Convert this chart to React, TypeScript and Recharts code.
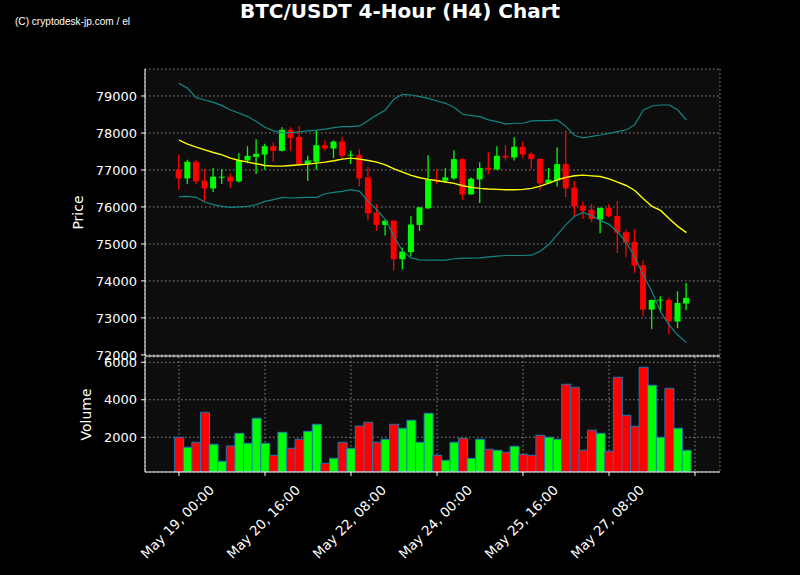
import React from 'react';
import { ComposedChart, Bar, Line, XAxis, YAxis, CartesianGrid, Cell } from 'recharts';

const OPEN = [77005, 76772, 77221, 76709, 76502, 76800, 76817, 76691, 77257, 77356,
  77419, 77643, 77517, 78084, 77895, 77158, 77221, 77670, 77580, 77769,
  77383, 77401, 76799, 75846, 75514, 75631, 74588, 74777, 75514, 75963,
  76745, 76709, 76772, 77293, 76340, 76745, 77059, 77014, 77383, 77338,
  77625, 77437, 77302, 76637, 76718, 77158, 76520, 76035, 75927, 75658,
  75973, 75757, 75315, 75054, 74423, 73225, 73477, 73486, 72901, 73387];
const HIGH = [77410, 77275, 77275, 77023, 77050, 77023, 76906, 77455, 77643, 77832,
  77706, 77742, 78155, 78155, 78191, 77383, 78075, 77805, 77805, 77895,
  77517, 77562, 77077, 76080, 75640, 75640, 74894, 75747, 76000, 77401,
  77014, 77050, 77535, 77320, 76799, 77212, 77482, 77643, 77670, 77886,
  77769, 77482, 77320, 77050, 77607, 78075, 76700, 76152, 76080, 75990,
  76072, 76162, 75387, 75387, 74550, 73495, 73586, 73550, 73721, 73946];
const LOW = [76466, 76619, 76619, 76134, 76403, 76619, 76511, 76664, 77185, 76888,
  77005, 77221, 77500, 77517, 77150, 76700, 77005, 77517, 77320, 77320,
  77158, 76556, 75631, 75352, 75226, 74283, 74310, 74669, 75352, 75945,
  76619, 76664, 76736, 76197, 76330, 76107, 76888, 76996, 77257, 77257,
  77320, 77014, 76457, 76619, 76556, 76269, 75756, 75676, 75595, 75288,
  75721, 74757, 74640, 74216, 73045, 72694, 73189, 72559, 72721, 73207];
const CLOSE = [76772, 77221, 76691, 76502, 76817, 76817, 76691, 77257, 77383, 77437,
  77643, 77517, 78084, 77868, 77158, 77257, 77670, 77580, 77769, 77383,
  77410, 76772, 75828, 75514, 75631, 74588, 74795, 75523, 75990, 76745,
  76709, 76799, 77293, 76340, 76763, 77050, 77014, 77383, 77338, 77625,
  77419, 77293, 76637, 76736, 77158, 76502, 76017, 75900, 75676, 75973,
  75748, 75306, 75036, 74414, 73225, 73486, 73495, 72910, 73405, 73541];
const VOLUME = [2000, 1467, 1733, 3333, 1627, 720, 1536, 2213, 1680, 3013,
  1680, 1040, 2267, 1413, 1893, 2320, 2693, 613, 880, 1733,
  1413, 2600, 2800, 1733, 1893, 2693, 2480, 2907, 1733, 3280,
  1040, 773, 1733, 1947, 880, 1893, 1360, 1307, 1200, 1520,
  1093, 1040, 2107, 2000, 1893, 4827, 4667, 1307, 2373, 2213,
  1253, 5200, 3173, 2587, 5733, 4773, 2000, 4613, 2480, 1307];
const MA = [77805, 77700, 77616, 77544, 77473, 77410, 77320, 77257, 77212, 77167,
  77122, 77104, 77104, 77122, 77140, 77158, 77185, 77212, 77248, 77293,
  77320, 77293, 77257, 77212, 77140, 77032, 76942, 76853, 76790, 76745,
  76709, 76673, 76637, 76574, 76529, 76502, 76484, 76475, 76466, 76466,
  76475, 76502, 76565, 76646, 76736, 76799, 76844, 76860, 76840, 76823,
  76760, 76670, 76580, 76446, 76221, 76014, 75907, 75682, 75475, 75305];
const UPPER = [79341, 79207, 78955, 78892, 78829, 78739, 78623, 78533, 78443, 78308,
  78155, 78057, 78012, 78012, 78030, 78057, 78075, 78102, 78146, 78173,
  78173, 78191, 78335, 78488, 78623, 78919, 79045, 79027, 78982, 78937,
  78865, 78802, 78690, 78506, 78470, 78443, 78353, 78308, 78240, 78263,
  78263, 78326, 78335, 78335, 78353, 78173, 77931, 77870, 77907, 77946,
  77991, 78036, 78081, 78225, 78620, 78730, 78757, 78757, 78620, 78351];
const LOWER = [76277, 76287, 76260, 76134, 76062, 76017, 75990, 76000, 76017, 76062,
  76152, 76197, 76260, 76242, 76251, 76260, 76260, 76358, 76394, 76421,
  76466, 76421, 76152, 75927, 75658, 75208, 74804, 74624, 74570, 74561,
  74561, 74561, 74600, 74615, 74615, 74624, 74651, 74669, 74687, 74687,
  74687, 74696, 74804, 74984, 75253, 75523, 75747, 75850, 75764, 75637,
  75529, 75323, 75053, 74649, 74155, 73705, 73166, 72807, 72537, 72331];

const PRICE_TICKS = [72000, 73000, 74000, 75000, 76000, 77000, 78000, 79000];
const VOLUME_TICKS = [2000, 4000, 6000];
const TICK_POS = [0, 10, 20, 30, 40, 50, 60];
const TICK_TEXT = ['May 19, 00:00', 'May 20, 16:00', 'May 22, 08:00', 'May 24, 00:00', 'May 25, 16:00', 'May 27, 08:00', ''];

const GREEN = '#00ff00';
const RED = '#ff0000';
const FONT = 'DejaVu Sans';

// 60 candles plus one empty slot for the final (unlabelled) tick
const data: any[] = [];
for (let i = 0; i <= OPEN.length; i++) {
  if (i < OPEN.length) {
    data.push({
      t: i,
      open: OPEN[i], high: HIGH[i], low: LOW[i], close: CLOSE[i],
      range: [LOW[i], HIGH[i]],
      vol: VOLUME[i], ma: MA[i], upper: UPPER[i], lower: LOWER[i],
      up: CLOSE[i] >= OPEN[i],
    });
  } else {
    data.push({ t: i });
  }
}

const Candle = (props: any) => {
  const { x, y, width, height, payload } = props;
  if (!payload || payload.open == null) return null;
  const { open, close, high, low } = payload;
  const top = Math.min(y, y + height);
  const h = Math.abs(height);
  const py = (v: number) => top + ((high - v) / (high - low)) * h;
  const color = close >= open ? GREEN : RED;
  const cx = x + width / 2;
  const bt = py(Math.max(open, close));
  const bb = py(Math.min(open, close));
  return (
    <g>
      <line x1={cx} x2={cx} y1={top} y2={top + h} stroke={color} strokeWidth={1.3} />
      <rect x={x} y={bt} width={width} height={Math.max(bb - bt, 1)} fill={color} />
    </g>
  );
};

const DateTick = (props: any) => {
  const { x, y, payload } = props;
  const idx = TICK_POS.indexOf(payload.value);
  const label = idx >= 0 ? TICK_TEXT[idx] : '';
  if (!label) return null;
  return (
    <g transform={`translate(${x + 36},${y + 13})`}>
      <text textAnchor="end" transform="rotate(-45)" fill="#ffffff" fontSize={13.5} fontFamily={FONT}>
        {label}
      </text>
    </g>
  );
};

const gridProps = { stroke: '#8c8c8c', strokeDasharray: '1.5 2.5', fill: '#0d0d0d' };
const tickStyle = { fill: '#ffffff', fontSize: 13, fontFamily: FONT };
const axisLine = { stroke: '#ffffff' };
const PAD = { left: 29.7, right: 20.7 };

export default function App() {
  return (
    <div style={{ position: 'absolute', left: 0, top: 0, width: 800, height: 575, background: '#000', overflow: 'hidden', fontFamily: FONT }}>
      <svg width={800} height={40} style={{ position: 'absolute', left: 0, top: 0 }}>
        <text x={400} y={17.5} textAnchor="middle" fill="#fff" fontSize={20} fontWeight="bold" fontFamily={FONT}>
          BTC/USDT 4-Hour (H4) Chart
        </text>
        <text x={15} y={24.5} fill="#fff" fontSize={10.5} fontFamily="Liberation Sans" textLength={115} lengthAdjust="spacingAndGlyphs">
          (C) cryptodesk-jp.com / el
        </text>
      </svg>
      <div style={{ position: 'absolute', left: 0, top: 347 }}>
        <ComposedChart width={800} height={228} data={data} margin={{ top: 10, right: 80, bottom: 0, left: 0 }} barCategoryGap={0} barGap={0}>
          <CartesianGrid {...gridProps} />
          <XAxis dataKey="t" type="category" interval={9} padding={PAD} height={103} tickSize={4} tickLine={axisLine} axisLine={axisLine} tick={<DateTick />} />
          <XAxis xAxisId="top" orientation="top" dataKey="t" type="category" tick={false} tickLine={false} axisLine={axisLine} height={0} />
          <YAxis
            domain={[150, 6280]}
            ticks={VOLUME_TICKS}
            interval={0}
            allowDataOverflow
            width={145}
            tick={tickStyle}
            tickSize={4}
            tickMargin={4}
            tickLine={axisLine}
            axisLine={axisLine}
            label={{ value: 'Volume', angle: -90, position: 'insideLeft', offset: 86, fill: '#fff', fontSize: 14, fontFamily: FONT, style: { textAnchor: 'middle' } }}
          />
          <YAxis yAxisId="right" orientation="right" width={0} tick={false} tickLine={false} axisLine={axisLine} />
          <Bar dataKey="vol" stroke="#1f77b4" strokeWidth={1} isAnimationActive={false}>
            {data.map((d, i) => (
              <Cell key={i} fill={d.up ? GREEN : RED} />
            ))}
          </Bar>
        </ComposedChart>
      </div>
      <div style={{ position: 'absolute', left: 0, top: 0 }}>
        <ComposedChart width={800} height={366} data={data} margin={{ top: 69, right: 80, bottom: 9, left: 0 }}>
          <CartesianGrid {...gridProps} />
          <XAxis dataKey="t" type="category" interval={9} padding={PAD} tick={false} tickLine={false} axisLine={axisLine} height={1} />
          <XAxis xAxisId="top" orientation="top" dataKey="t" type="category" tick={false} tickLine={false} axisLine={axisLine} height={0} />
          <YAxis
            domain={[71970, 79730]}
            ticks={PRICE_TICKS}
            interval={0}
            allowDataOverflow
            width={145}
            tick={tickStyle}
            tickSize={4}
            tickMargin={4}
            tickLine={axisLine}
            axisLine={axisLine}
            label={{ value: 'Price', angle: -90, position: 'insideLeft', offset: 78, fill: '#fff', fontSize: 14, fontFamily: FONT, style: { textAnchor: 'middle' } }}
          />
          <YAxis yAxisId="right" orientation="right" width={0} tick={false} tickLine={false} axisLine={axisLine} />
          <Line dataKey="upper" stroke="#138585" strokeWidth={1.2} dot={false} isAnimationActive={false} connectNulls={false} />
          <Line dataKey="lower" stroke="#138585" strokeWidth={1.2} dot={false} isAnimationActive={false} connectNulls={false} />
          <Line dataKey="ma" stroke="#ffff00" strokeWidth={1.4} dot={false} isAnimationActive={false} connectNulls={false} />
          <Bar dataKey="range" barSize={6} shape={<Candle />} isAnimationActive={false} />
        </ComposedChart>
      </div>
    </div>
  );
}
